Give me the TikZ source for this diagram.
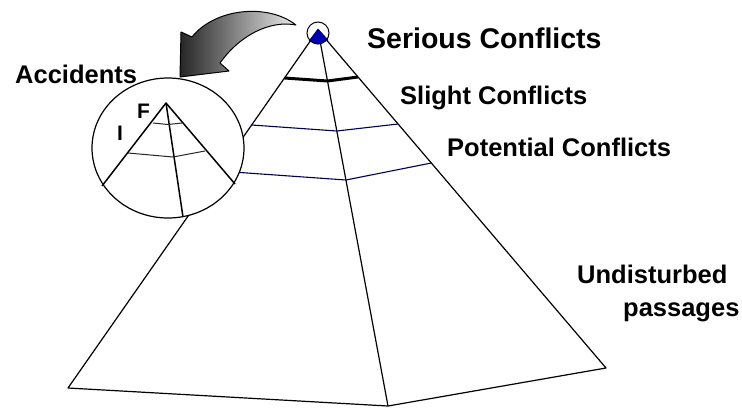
\documentclass[tikz,border=0pt]{standalone}
\usepackage{fontspec}
\setmainfont{Liberation Sans}
\begin{document}
\begin{tikzpicture}[x=1pt,y=-1pt,
  edge/.style={draw=black,line width=1.2pt},
  level/.style={draw=blue!30!black,line width=1.1pt},
  inner/.style={draw=black!85,line width=1pt},
  lbl/.style={inner sep=0pt,anchor=base west,font=\bfseries\fontsize{25.5}{30}\selectfont},
  small/.style={inner sep=0pt,anchor=base west,font=\bfseries\fontsize{21}{25}\selectfont}]
\useasboundingbox (0,0) rectangle (742,408);
% main pyramid
\coordinate (apex) at (318,30);
\coordinate (bl) at (68,388);
\coordinate (bf) at (388,406);
\coordinate (br) at (606,368);
\draw[edge,line join=round] (apex) -- (bl) -- (bf) -- (br) -- cycle;
\draw[edge] (apex) -- (bf);
% levels
\coordinate (t1) at (284.5,78); \coordinate (t2) at (327.5,81); \coordinate (t3) at (358,77);
\draw[line width=3pt,line join=round] (t1) -- (t2) -- (t3);
\coordinate (a1) at (251.7,125); \coordinate (a2) at (336.8,131); \coordinate (a3) at (398,124);
\draw[level] (a1) -- (a2) -- (a3);
\coordinate (b1) at (219,171); \coordinate (b2) at (345.9,180); \coordinate (b3) at (431.3,163);
\draw[level] (b1) -- (b2) -- (b3);
% top cap
\draw[fill=blue!70!black,draw=blue!40!black,line width=0.6pt] (318,29) -- (309,41) -- (318,44) -- (328,40) -- cycle;
\draw[line width=1pt] (318,33) circle[radius=11pt];
% magnifier
\coordinate (mc) at (168,148);
\draw[fill=white,line width=1.2pt] (mc) ellipse[x radius=76pt,y radius=70pt];
\coordinate (iapex) at (166,103);
\coordinate (il) at (102,186);
\coordinate (ir) at (235,184);
\coordinate (ib) at (183,217);
\draw[edge,line width=1.5pt,line join=round] (il) -- (iapex) -- (ir);
\draw[edge,line width=1.5pt] (iapex) -- (ib);
\coordinate (p1) at (153,123); \coordinate (p2) at (168,124.5); \coordinate (p3) at (182,123);
\draw[inner] (p1) -- (p2) -- (p3);
\coordinate (q1) at (128,153); \coordinate (q2) at (173,157); \coordinate (q3) at (205,151);
\draw[inner] (q1) -- (q2) -- (q3);
% curved arrow
\draw[line width=1pt,left color=black!85,right color=black!8,line join=round]
  (296,25) .. controls (268,3) and (215,8) .. (192,37) -- (181,32) -- (180,77)
  -- (229,71) -- (220,63) .. controls (240,35) and (270,20) .. (296,25) -- cycle;
% labels
\node[lbl,font=\bfseries\fontsize{28.5}{33}\selectfont] (serious) at (367,48) {Serious Conflicts};
\node[lbl] (slight) at (400,104) {Slight Conflicts};
\node[lbl] (potential) at (447,156) {Potential Conflicts};
\node[lbl] (undist) at (577,283) {Undisturbed};
\node[lbl] (pass) at (623,316) {passages};
\node[lbl] (acc) at (15,83) {Accidents};
\node[small] (F) at (137,118) {F};
\node[small] (I) at (117,140) {I};
\end{tikzpicture}
\end{document}
